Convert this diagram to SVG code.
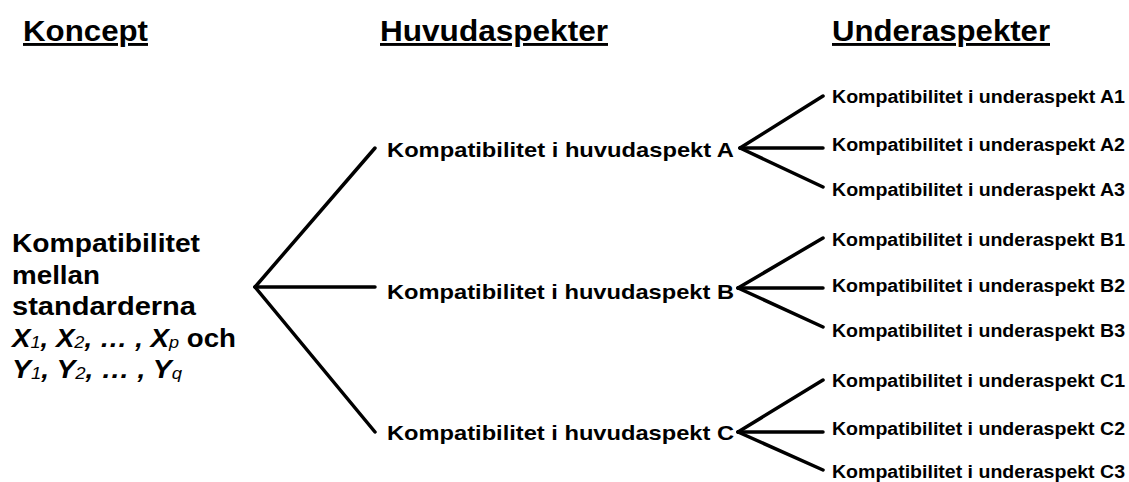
<svg xmlns="http://www.w3.org/2000/svg" width="1129" height="482" viewBox="0 0 1129 482">
<style>
text{font-family:"Liberation Sans",Arial,sans-serif;font-weight:bold;fill:#000}
.h{font-size:29px;text-decoration:underline}
.c{font-size:26px}
.m{font-size:21px}
.s{font-size:18px}
.i{font-style:italic}
.sub{font-size:17px;font-style:italic;font-weight:normal}
#connectors line{stroke:#000;stroke-width:3.5;stroke-linecap:round}
</style>
<rect width="1129" height="482" fill="#fff"/>
<g id="headers">
<text class="h" x="23" y="41" textLength="125" lengthAdjust="spacingAndGlyphs">Koncept</text>
<text class="h" x="380" y="41" textLength="228" lengthAdjust="spacingAndGlyphs">Huvudaspekter</text>
<text class="h" x="832" y="41" textLength="218" lengthAdjust="spacingAndGlyphs">Underaspekter</text>
</g>
<g id="connectors">
<line x1="255" y1="287" x2="375" y2="148"/>
<line x1="255" y1="287" x2="375" y2="287"/>
<line x1="255" y1="287" x2="375" y2="432"/>
<line x1="740" y1="148" x2="823" y2="96"/>
<line x1="740" y1="148" x2="823" y2="148"/>
<line x1="740" y1="148" x2="823" y2="187"/>
<line x1="738" y1="288" x2="823" y2="238"/>
<line x1="738" y1="288" x2="823" y2="288"/>
<line x1="738" y1="288" x2="823" y2="327"/>
<line x1="738" y1="432" x2="823" y2="380"/>
<line x1="738" y1="432" x2="823" y2="432"/>
<line x1="738" y1="432" x2="823" y2="470"/>
</g>
<g id="concept">
<text class="c" x="12" y="252" textLength="188" lengthAdjust="spacingAndGlyphs">Kompatibilitet</text>
<text class="c" x="12" y="283.5" textLength="88" lengthAdjust="spacingAndGlyphs">mellan</text>
<text class="c" x="12" y="315" textLength="184" lengthAdjust="spacingAndGlyphs">standarderna</text>
<text class="c" x="12" y="346.5" textLength="224" lengthAdjust="spacingAndGlyphs"><tspan class="i">X</tspan><tspan class="sub" dy="1">1</tspan><tspan class="i" dy="-1">, X</tspan><tspan class="sub" dy="1">2</tspan><tspan class="i" dy="-1">, … , X</tspan><tspan class="sub" dy="1">p</tspan><tspan dy="-1"> och</tspan></text>
<text class="c" x="12" y="378" textLength="170" lengthAdjust="spacingAndGlyphs"><tspan class="i">Y</tspan><tspan class="sub" dy="1">1</tspan><tspan class="i" dy="-1">, Y</tspan><tspan class="sub" dy="1">2</tspan><tspan class="i" dy="-1">, … , Y</tspan><tspan class="sub" dy="1">q</tspan></text>
</g>
<g id="main-A"><text class="m" x="387" y="157" textLength="347" lengthAdjust="spacingAndGlyphs">Kompatibilitet i huvudaspekt A</text></g>
<g id="main-B"><text class="m" x="387" y="299" textLength="347" lengthAdjust="spacingAndGlyphs">Kompatibilitet i huvudaspekt B</text></g>
<g id="main-C"><text class="m" x="387" y="440" textLength="347" lengthAdjust="spacingAndGlyphs">Kompatibilitet i huvudaspekt C</text></g>
<g id="sub-A1"><text class="s" x="832" y="103" textLength="293" lengthAdjust="spacingAndGlyphs">Kompatibilitet i underaspekt A1</text></g>
<g id="sub-A2"><text class="s" x="832" y="151" textLength="293" lengthAdjust="spacingAndGlyphs">Kompatibilitet i underaspekt A2</text></g>
<g id="sub-A3"><text class="s" x="832" y="196" textLength="293" lengthAdjust="spacingAndGlyphs">Kompatibilitet i underaspekt A3</text></g>
<g id="sub-B1"><text class="s" x="832" y="246" textLength="293" lengthAdjust="spacingAndGlyphs">Kompatibilitet i underaspekt B1</text></g>
<g id="sub-B2"><text class="s" x="832" y="292" textLength="293" lengthAdjust="spacingAndGlyphs">Kompatibilitet i underaspekt B2</text></g>
<g id="sub-B3"><text class="s" x="832" y="337" textLength="293" lengthAdjust="spacingAndGlyphs">Kompatibilitet i underaspekt B3</text></g>
<g id="sub-C1"><text class="s" x="832" y="387" textLength="293" lengthAdjust="spacingAndGlyphs">Kompatibilitet i underaspekt C1</text></g>
<g id="sub-C2"><text class="s" x="832" y="435" textLength="293" lengthAdjust="spacingAndGlyphs">Kompatibilitet i underaspekt C2</text></g>
<g id="sub-C3"><text class="s" x="832" y="478" textLength="293" lengthAdjust="spacingAndGlyphs">Kompatibilitet i underaspekt C3</text></g>
</svg>
